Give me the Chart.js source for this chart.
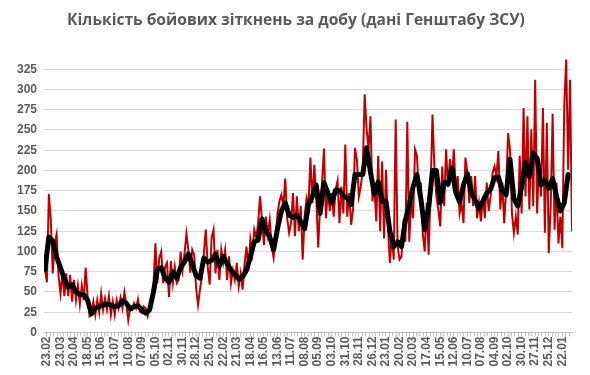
<!DOCTYPE html>
<html>
<head>
<meta charset="utf-8">
<script src="https://cdn.jsdelivr.net/npm/chart.js@4"></script>
<style>
  body { margin:0; background:#fff; }
  canvas { display:block; }
</style>
</head>
<body>
<canvas id="chart" width="590" height="375"></canvas>
<script>
// Daily combat clashes (General Staff data): red = daily, black = smoothed average.

const chartTitle = 'Кількість бойових зіткнень за добу (дані Генштабу ЗСУ)';

// axis labels, one every 28 days starting at day 0
const dateLabels = ['23.02','23.03','20.04','18.05','15.06','13.07','10.08','07.09','05.10','02.11',
  '30.11','28.12','25.01','22.02','21.03','18.04','16.05','13.06','11.07','08.08',
  '05.09','03.10','31.10','28.11','26.12','23.01','20.02','20.03','17.04','15.05',
  '12.06','10.07','07.08','04.09','02.10','30.10','27.11','25.12','22.01'];

// daily values, read every 4th day starting at day -4
const redStart = -4, redStep = 4;
const dailyClashes = [
  78, 62, 171, 140, 73, 110, 121, 70, 48, 73,
  45, 73, 45, 71, 38, 65, 40, 58, 35, 58,
  40, 80, 45, 20, 22, 38, 22, 40, 25, 48,
  28, 42, 28, 45, 22, 38, 22, 40, 30, 43,
  30, 50, 35, 15, 30, 28, 36, 30, 41, 26,
  24, 32, 30, 20, 30, 44, 59, 110, 61, 92,
  100, 61, 81, 86, 44, 88, 61, 81, 61, 65,
  100, 77, 97, 122, 102, 74, 102, 96, 55, 34,
  53, 69, 98, 127, 81, 59, 117, 127, 73, 102,
  65, 102, 86, 102, 65, 94, 61, 77, 65, 86,
  57, 73, 53, 84, 106, 77, 115, 98, 127, 117,
  135, 168, 139, 108, 143, 121, 139, 106, 92, 115,
  147, 162, 170, 156, 190, 141, 123, 135, 172, 119,
  168, 125, 156, 90, 143, 166, 156, 216, 160, 207,
  168, 105, 156, 185, 227, 141, 176, 150, 172, 143,
  176, 187, 135, 180, 147, 232, 143, 172, 133, 152,
  228, 213, 168, 180, 201, 294, 251, 226, 267, 162,
  180, 137, 218, 125, 211, 116, 201, 131, 86, 119,
  90, 263, 106, 90, 94, 139, 112, 260, 112, 164,
  141, 226, 218, 168, 185, 121, 100, 160, 96, 176,
  269, 203, 168, 152, 131, 205, 156, 226, 180, 214,
  187, 226, 176, 193, 147, 160, 135, 216, 197, 160,
  193, 156, 193, 141, 160, 137, 168, 141, 185, 150,
  168, 197, 205, 193, 224, 152, 185, 135, 176, 246,
  226, 147, 123, 143, 121, 218, 147, 277, 168, 267,
  152, 251, 156, 312, 147, 214, 168, 277, 123, 259,
  98, 156, 270, 127, 185, 110, 143, 104, 280, 337,
  201, 312, 125
];

// smoothed average, read every 8th day starting at day -4
const avgStart = -4, avgStep = 8;
const avgClashes = [
  78, 118, 113, 93, 80, 66, 56, 59, 50, 47,
  47, 40, 23, 30, 32, 34, 35, 34, 32, 33,
  39, 36, 29, 32, 33, 28, 24, 28, 50, 78,
  80, 67, 62, 75, 67, 80, 87, 97, 85, 70,
  67, 92, 87, 89, 97, 82, 94, 85, 77, 72,
  66, 69, 77, 93, 112, 114, 140, 125, 118, 102,
  128, 150, 160, 145, 142, 145, 137, 128, 158, 168,
  182, 147, 185, 172, 160, 176, 175, 169, 166, 158,
  195, 195, 195, 228, 198, 171, 186, 162, 162, 125,
  106, 112, 106, 138, 158, 180, 195, 165, 127, 153,
  200, 200, 160, 185, 183, 203, 173, 161, 182, 196,
  173, 163, 153, 162, 172, 177, 191, 192, 175, 170,
  214, 165, 156, 180, 210, 192, 222, 215, 182, 188,
  178, 190, 168, 150, 160, 195
];

const yTicksMax = 345;
const dayMin = -6, dayMax = 1084;

function toPoints(values, start, step){
  return values.map((v,i)=>({x: start + i*step, y: v}));
}

const titlePlugin = {
  id: 'titleText',
  afterDraw(chart){
    const c = chart.ctx;
    c.save();
    c.font = 'bold 15.6px "Open Sans"';
    c.fillStyle = '#595959';
    c.textAlign = 'center';
    c.textBaseline = 'middle';
    c.fillText(chartTitle, 296, 21);
    c.restore();
  }
};

const tickDays = [];
for (let d = 0; d <= dayMax; d += 7) tickDays.push(d);

new Chart(document.getElementById('chart'), {
  type: 'line',
  data: {
    datasets: [
      {data: toPoints(avgClashes, avgStart, avgStep), borderColor:'#000000', borderWidth:5,
       pointRadius:0, order:0, borderJoinStyle:'round', borderCapStyle:'round'},
      {data: toPoints(dailyClashes, redStart, redStep), borderColor:'#C00000', borderWidth:2,
       pointRadius:0, order:1}
    ]
  },
  options: {
    responsive: false,
    animation: false,
    layout: {padding: {top:53, right:18, left:0, bottom:0}},
    plugins: {legend:{display:false}, tooltip:{enabled:false}, title:{display:false}},
    scales: {
      x: {
        type: 'linear', min: dayMin, max: dayMax,
        afterBuildTicks: s => { s.ticks = tickDays.map(v=>({value:v})); },
        afterFit: s => { s.height = 42.5; },
        grid: {drawOnChartArea:false, drawTicks:true, tickLength:4, color:'#bfbfbf'},
        border: {display:true, color:'#bfbfbf'},
        ticks: {
          autoSkip:false, maxRotation:90, minRotation:90, padding:0,
          color:'#595959', font:{family:'Liberation Sans', size:12, weight:'bold'},
          callback: v => (v % 28 === 0 && dateLabels[v/28]) ? dateLabels[v/28] : ''
        }
      },
      y: {
        min: 0, max: yTicksMax,
        afterFit: s => { s.width = 44; },
        grid: {color:'#d9d9d9', drawTicks:false},
        border: {display:false},
        ticks: {stepSize:25, includeBounds:false, padding:7, color:'#595959',
          font:{family:'Liberation Sans', size:12, weight:'bold'}}
      }
    }
  },
  plugins: [titlePlugin]
});
</script>
</body>
</html>
